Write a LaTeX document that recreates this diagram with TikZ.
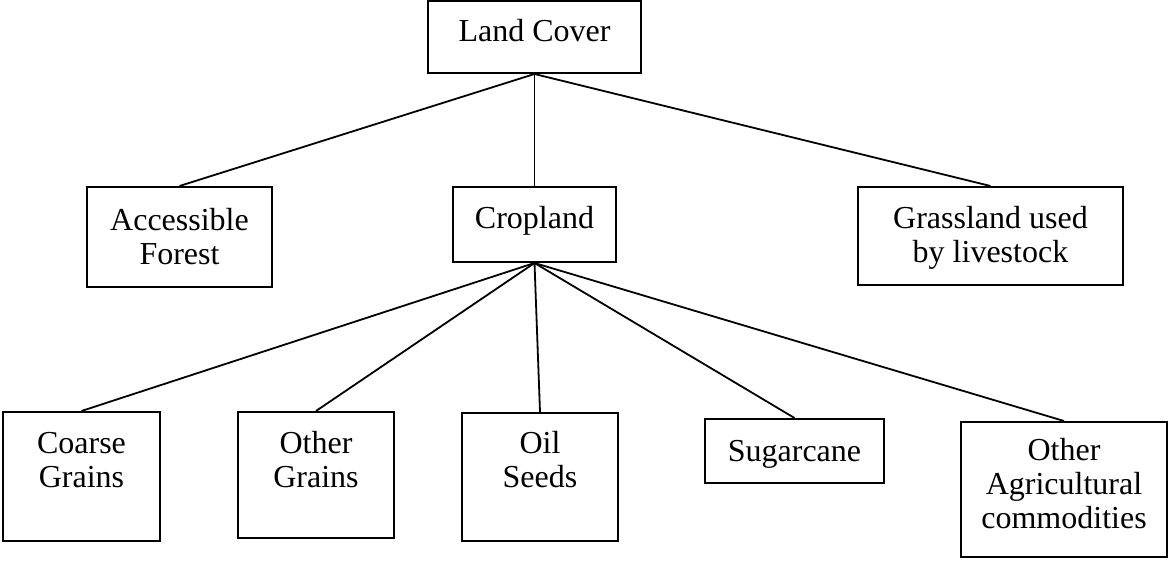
\documentclass[tikz,border=0pt]{standalone}
\usepackage{fontspec}
\setmainfont{Liberation Serif}
\begin{document}
\begin{tikzpicture}[x=1pt,y=-1pt,
  box/.style={draw,line width=2pt,inner sep=0pt},
  lbl/.style={inner sep=0pt,align=center,font=\fontsize{32}{34}\selectfont},
  link/.style={line width=1.8pt}]
\useasboundingbox (0,0) rectangle (1169,569);
% boxes
\node[box,minimum width=213pt,minimum height=72pt] (land) at (534.5,37) {};
\node[box,minimum width=185pt,minimum height=100pt] (forest) at (179.5,237) {};
\node[box,minimum width=163pt,minimum height=75pt] (crop) at (534.5,224.5) {};
\node[box,minimum width=265pt,minimum height=98pt] (grass) at (990.5,236) {};
\node[box,minimum width=157pt,minimum height=129pt] (coarse) at (81.5,476.5) {};
\node[box,minimum width=156pt,minimum height=126pt] (ograins) at (316,475) {};
\node[box,minimum width=156pt,minimum height=128pt] (oil) at (540,477) {};
\node[box,minimum width=179pt,minimum height=64pt] (sugar) at (794.5,451) {};
\node[box,minimum width=206pt,minimum height=135pt] (oagri) at (1064,489.5) {};
% labels
\node[lbl] (landT) at (534.5,31) {Land Cover};
\node[lbl] (forestT) at (179.5,237) {Accessible\\Forest};
\node[lbl] (cropT) at (534.5,220.5) {Cropland};
\node[lbl] (grassT) at (990.5,237.5) {Grassland used\\by livestock};
\node[lbl] (coarseT) at (81.5,460) {Coarse\\Grains};
\node[lbl] (ograinsT) at (316,460) {Other\\Grains};
\node[lbl] (oilT) at (540,460) {Oil\\Seeds};
\node[lbl] (sugarT) at (794.5,454.5) {Sugarcane};
\node[lbl] (oagriT) at (1064,484) {Other\\Agricultural\\commodities};
% connectors
\draw[link] (land.south) -- (forest.north);
\draw[link] (land.south) -- (crop.north);
\draw[link] (land.south) -- (grass.north);
\draw[link] (crop.south) -- (coarse.north);
\draw[link] (crop.south) -- (ograins.north);
\draw[link] (crop.south) -- (oil.north);
\draw[link] (crop.south) -- (sugar.north);
\draw[link] (crop.south) -- (oagri.north);
\end{tikzpicture}
\end{document}
